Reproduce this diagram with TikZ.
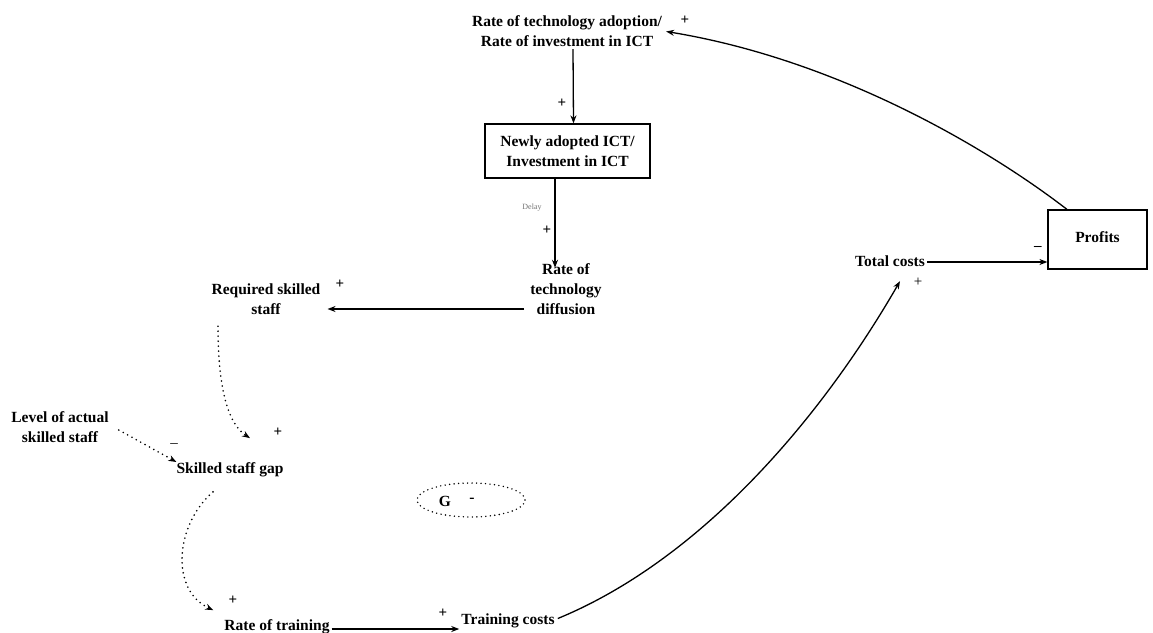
\documentclass[tikz,border=0pt]{standalone}
\usepackage{fontspec}
\setmainfont{Liberation Serif}
\usetikzlibrary{arrows.meta,shapes.geometric}
\begin{document}
\begin{tikzpicture}[x=1pt,y=-1pt,
  lbl/.style={font=\fontsize{15.5}{20}\selectfont\bfseries, align=center, inner sep=2pt},
  sign/.style={font=\fontsize{15}{15}\selectfont, inner sep=0pt},
  stock/.style={lbl, draw, line width=1.2pt},
  link/.style={line width=1.3pt, -{Stealth[length=8pt,width=6pt]}},
  dotlink/.style={line width=1.8pt, dash pattern=on 0pt off 5pt, line cap=round,
                  -{Stealth[length=8pt,width=6pt]}},
]
\useasboundingbox (0,0) rectangle (1153,632);

% variables and stocks
\node[lbl] (adopt) at (567,31.5) {Rate of technology adoption/\\Rate of investment in ICT};
\node[stock, minimum width=165pt, minimum height=54pt] (ict) at (567.5,151) {Newly adopted ICT/\\Investment in ICT};
\node[lbl] (diff) at (566,289.5) {Rate of\\technology\\diffusion};
\node[lbl] (req) at (266,299.5) {Required skilled\\staff};
\node[lbl] (level) at (60,427.5) {Level of actual\\skilled staff};
\node[lbl] (gap) at (230,469.5) {Skilled staff gap};
\node[lbl] (train) at (277,626.5) {Rate of training};
\node[lbl] (cost) at (508,620.5) {Training costs};
\node[lbl] (total) at (890,261.5) {Total costs};
\node[stock, minimum width=99pt, minimum height=59pt] (profit) at (1097.5,239.5) {\raisebox{5pt}{Profits}};

% polarity signs
\node[sign] (p1) at (685,20) {\textbf{+}};
\node[sign] (p2) at (562,103) {\textbf{+}};
\node[sign] (p3) at (547,230) {\textbf{+}};
\node[sign] (p4) at (340,284) {\textbf{+}};
\node[sign] (p5) at (278,432) {\textbf{+}};
\node[sign] (m1) at (174,446) {--};
\node[sign] (p6) at (233,600) {\textbf{+}};
\node[sign] (p7) at (443,613) {\textbf{+}};
\node[sign] (p8) at (918,282) {+};
\node[sign] (m2) at (1038,248) {\textbf{--}};
\node[font=\fontsize{8}{8}\selectfont, text=black!55, inner sep=0pt] (delay) at (532,208) {Delay};

% loop marker
\node[ellipse, draw, line width=1.6pt, dash pattern=on 0pt off 4.5pt, line cap=round,
      minimum width=108pt, minimum height=34pt, inner sep=0pt] (loop) at (471,500) {};
\node[lbl, inner sep=0pt] (loopG) at (445,501) {G};
\node[lbl, inner sep=0pt] (loopS) at (472,500) {-};

% links
\draw[link] ([xshift=6pt]adopt.south) -- ([xshift=6pt]ict.north);
\draw[link, shorten >=-6pt] ([xshift=-12.5pt]ict.south) -- ([xshift=-11pt]diff.north);
\draw[link] ([xshift=-4pt, yshift=-19.5pt]diff.west) -- ([xshift=5pt, yshift=-9.5pt]req.east);
\draw[dotlink] ([xshift=-48pt, yshift=-9pt]req.south)
  .. controls (218,395) and (230,425) .. ([xshift=20pt, yshift=22pt]gap.north);
\draw[dotlink] ([xshift=8pt, yshift=-2.5pt]level.east) -- ([xshift=2pt, yshift=7.5pt]gap.west);
\draw[dotlink] ([xshift=-17pt, yshift=-13pt]gap.south)
  .. controls (175,525) and (170,590) .. ([xshift=-9pt, yshift=7pt]train.north west);
\draw[link] ([yshift=-2.5pt]train.east) -- ([yshift=-8.5pt]cost.west);
\draw[link] ([xshift=1pt, yshift=2pt]cost.east)
  .. controls (700,560) and (820,420) .. ([xshift=10pt, yshift=-12pt]total.south);
\draw[link] ([yshift=-0.5pt]total.east) -- ([yshift=-22.5pt]profit.west);
\draw[link] ([xshift=-30.5pt]profit.north)
  .. controls (990,150) and (840,60) .. ([xshift=2pt]adopt.east);
\end{tikzpicture}
\end{document}
